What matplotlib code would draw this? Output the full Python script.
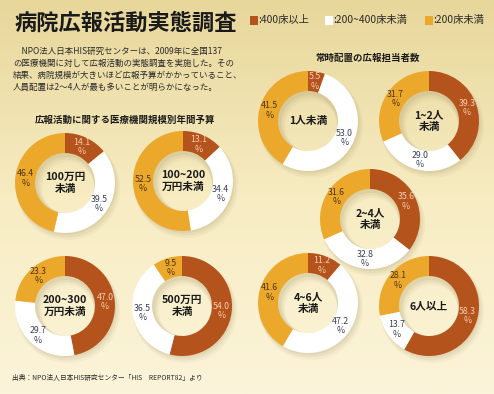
import numpy as np
import matplotlib.pyplot as plt
from matplotlib.patches import Wedge, Rectangle
from matplotlib.colors import LinearSegmentedColormap

plt.rcParams['font.family'] = ['Noto Sans CJK JP', 'DejaVu Sans']

# data
budget_names = ['100万円\n未満', '100~200\n万円未満', '200~300\n万円未満', '500万円\n未満']
budget_large = [14.1, 13.1, 47.0, 54.0]   # 400床以上
budget_mid = [39.5, 34.4, 29.7, 36.5]     # 200~400床未満
budget_small = [46.4, 52.5, 23.3, 9.5]    # 200床未満

staff_names = ['1人未満', '1~2人\n未満', '2~4人\n未満', '4~6人\n未満', '6人以上']
staff_large = [5.5, 39.3, 35.6, 11.2, 58.3]
staff_mid = [53.0, 29.0, 32.8, 47.2, 13.7]
staff_small = [41.5, 31.7, 31.6, 41.6, 28.1]

legend_names = [':400床以上', ':200~400床未満', ':200床未満']

c_dark = '#b4531b'
c_white = '#ffffff'
c_gold = '#eca82a'
colors = [c_dark, c_white, c_gold]
txt_colors = ['#f9cdb3', '#3c3e56', '#4a3412']

W, H = 494, 394
fig = plt.figure(figsize=(W / 100, H / 100), dpi=100)
ax = fig.add_axes([0, 0, 1, 1])

# background gradient
bg = LinearSegmentedColormap.from_list('bg', ['#e8d79b', '#f7ecc2', '#fcf4da'])
grad = np.linspace(0, 1, 256).reshape(-1, 1)
ax.imshow(grad, cmap=bg, extent=[0, W, 0, H], aspect='auto', origin='upper', zorder=0)


def donut(cx, cy, vals, name, r=50):
    Y = H - cy
    for k, a in enumerate([0.10, 0.08, 0.06]):
        off = 2 + k * 1.5
        ax.add_patch(Wedge((cx + off * 0.6, Y - off), r + k, 0, 360, width=22 + 2 * k,
                           color='#8a7a4a', alpha=a, lw=0, zorder=1))
    labels = [f'{v:.1f}\n%' for v in vals]
    wedges, texts = ax.pie(vals, colors=colors, startangle=90, counterclock=False,
                           center=(cx, Y), radius=r, labels=labels, labeldistance=0.8,
                           wedgeprops=dict(width=r * 0.4, lw=0),
                           textprops=dict(ha='center', va='center', fontsize=6.3, linespacing=1.05))
    for w in wedges:
        w.set_zorder(2)
    for t, c in zip(texts, txt_colors):
        t.set_color(c)
        t.set_zorder(3)
    ax.text(cx, Y, name, ha='center', va='center', fontsize=7.7, fontweight='bold',
            color='#1a1a1a', linespacing=1.15, zorder=3)


budget_pos = [(65, 183), (183, 181), (65, 306), (182, 306)]
for (cx, cy), n, a, b, c in zip(budget_pos, budget_names, budget_large, budget_mid, budget_small):
    donut(cx, cy, [a, b, c], n)

staff_pos = [(308, 121), (429, 121), (370, 219), (308, 303), (429, 306)]
for (cx, cy), n, a, b, c in zip(staff_pos, staff_names, staff_large, staff_mid, staff_small):
    donut(cx, cy, [a, b, c], n)

# title and intro text
ax.text(15, H - 23, '病院広報活動実態調査', fontsize=16, fontweight='bold', color='#1a1a1a',
        ha='left', va='center')
intro = ['　NPO法人日本HIS研究センターは、2009年に全国137',
         'の医療機関に対して広報活動の実態調査を実施した。その',
         '結果、病院規模が大きいほど広報予算がかかっていること、',
         '人員配置は2～4人が最も多いことが明らかになった。']
for i, line in enumerate(intro):
    ax.text(13, H - (51 + 12 * i), line, fontsize=6.1, color='#2a2a2a', ha='left', va='center')

# legend
leg_x = [250, 325, 425]
for x, lab, c in zip(leg_x, legend_names, colors):
    ax.add_patch(Rectangle((x, H - 25), 8, 9, color=c, lw=0, zorder=3))
    ax.text(x + 8, H - 20, lab, fontsize=7.4, color='#2a2a2a', ha='left', va='center')

ax.text(125, H - 120, '広報活動に関する医療機関規模別年間予算', fontsize=6.8, fontweight='bold',
        color='#1a1a1a', ha='center', va='center')
ax.text(368, H - 58, '常時配置の広報担当者数', fontsize=6.8, fontweight='bold',
        color='#1a1a1a', ha='center', va='center')
ax.text(12, H - 378, '出典：NPO法人日本HIS研究センター「HIS　REPORT82」より', fontsize=4.9,
        color='#2a2a2a', ha='left', va='center')

ax.set_xlim(0, W)
ax.set_ylim(0, H)
ax.set_aspect('auto')
ax.axis('off')

fig.savefig('out.png', dpi=100)
